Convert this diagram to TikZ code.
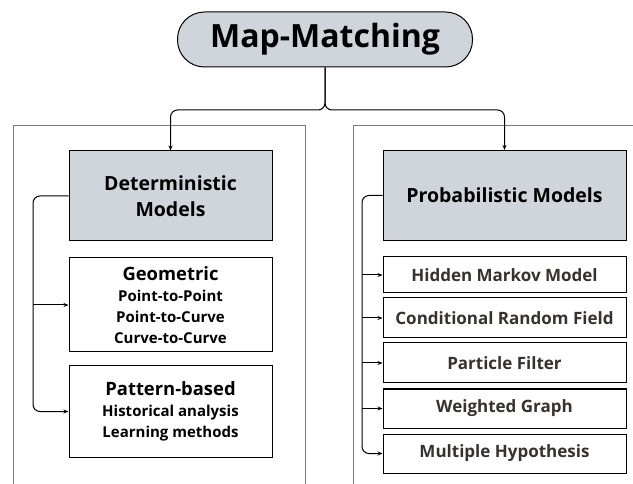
\documentclass[tikz,border=0pt]{standalone}
\usepackage{fontspec}
\setmainfont{Open Sans}
\usepackage{xcolor}
\usetikzlibrary{arrows.meta}
\usetikzlibrary{calc}

\definecolor{boxgray}{RGB}{208,212,219}
\definecolor{framegray}{RGB}{120,120,120}
\definecolor{leaftext}{RGB}{55,50,45}

\newcommand{\headline}[1]{{\fontsize{18.4}{21}\selectfont #1}}

\begin{document}
\begin{tikzpicture}[x=1pt, y=-1pt,
    model/.style={rectangle, draw, line width=1pt, fill=boxgray, minimum width=#1, minimum height=90pt, inner sep=0pt, align=center, font=\fontsize{19.5}{26}\selectfont\bfseries},
    branch/.style={rectangle, draw, line width=1pt, fill=white, minimum width=203pt, inner sep=0pt, align=center, font=\fontsize{15}{21}\selectfont\bfseries},
    leaf/.style={rectangle, draw, line width=1pt, fill=white, minimum width=243pt, inner sep=0pt, text=leaftext, font=\fontsize{17}{20}\selectfont\bfseries},
    link/.style={draw, line width=1pt, rounded corners=7pt, -{Stealth[length=5pt, width=4pt]}}]
      \useasboundingbox (0,0) rectangle (633,484);

      % outer frames
      \draw[framegray, line width=0.6pt] (13,484) -- (13,125) -- (305,125) -- (305,484);
      \draw[framegray, line width=0.6pt] (353,484) -- (353,125) -- (633,125);

      \node[rectangle, draw, line width=1pt, rounded corners=27pt, fill=boxgray, minimum width=295pt, minimum height=55pt, font=\fontsize{32}{36}\selectfont\bfseries] (title) at (325,39.5) {Map-Matching};

      \node[model=203pt] (det) at (170.5,196) {Deterministic\\Models};
      \node[branch, minimum height=94pt] (geo) at (170.5,305) {\headline{Geometric}\\Point-to-Point\\Point-to-Curve\\Curve-to-Curve};
      \node[branch, minimum height=91pt] (pat) at (170.5,411.5) {\headline{Pattern-based}\\Historical analysis\\Learning methods};

      \node[model=243pt] (prob) at (504.5,195.5) {Probabilistic Models};
      \node[leaf, minimum height=36pt] (hmm) at (504.5,275) {Hidden Markov Model};
      \node[leaf, minimum height=40pt] (crf) at (504.5,318) {Conditional Random Field};
      \node[leaf, minimum height=40pt] (pf) at (504.5,363) {Particle Filter};
      \node[leaf, minimum height=39pt] (wg) at (504.5,408.5) {Weighted Graph};
      \node[leaf, minimum height=39pt] (mh) at (504.5,453.5) {Multiple Hypothesis};

      \coordinate (split) at (325,110);
      \coordinate (lbus) at (33,0);
      \coordinate (rbus) at (362,0);

      \draw[link] (title.south) |- (det.north |- split) -- (det.north);
      \draw[link] (title.south) |- (prob.north |- split) -- (prob.north);

      \draw[link] (det.west) -- (det.west -| lbus) |- (pat.west);
      \draw[link] (lbus |- geo.west) -- (geo.west);

      \draw[link] (prob.west) -- (prob.west -| rbus) |- (mh.west);
      \foreach \n in {hmm, crf, pf, wg}
        \draw[link] (rbus |- \n.west) -- (\n.west);
\end{tikzpicture}
\end{document}
